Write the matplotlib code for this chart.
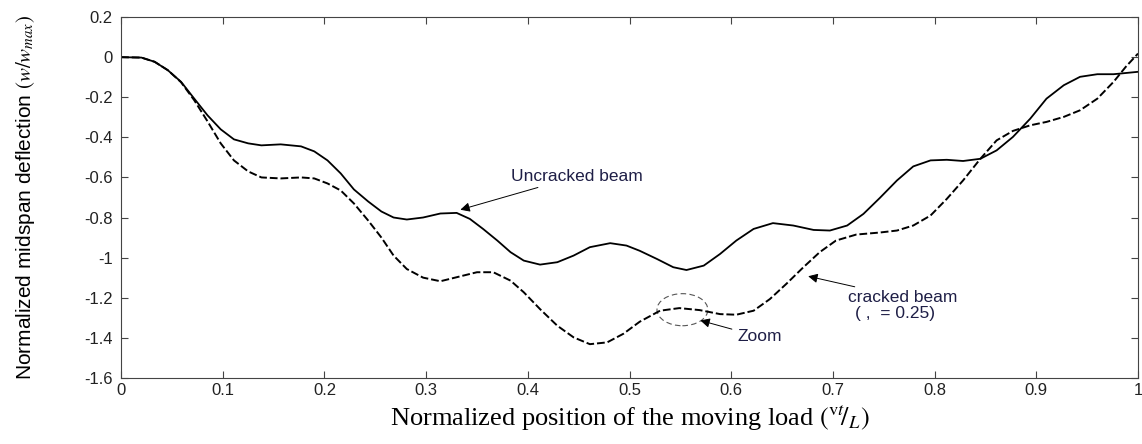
import matplotlib
matplotlib.use("Agg")
import matplotlib.pyplot as plt
from matplotlib.patches import Ellipse

plt.rcParams['axes.unicode_minus'] = False
plt.rcParams['mathtext.fontset'] = 'stix'

# Uncracked beam (solid)
x_unc = [0, 0.020, 0.033, 0.046, 0.059, 0.072, 0.085, 0.098, 0.111, 0.125,
         0.138, 0.157, 0.177, 0.190, 0.203, 0.216, 0.229, 0.243, 0.256, 0.268,
         0.281, 0.297, 0.314, 0.330, 0.343, 0.356, 0.370, 0.383, 0.396, 0.412,
         0.429, 0.445, 0.461, 0.481, 0.497, 0.510, 0.527, 0.543, 0.556, 0.573,
         0.589, 0.605, 0.622, 0.641, 0.661, 0.681, 0.697, 0.714, 0.730, 0.746,
         0.763, 0.779, 0.796, 0.812, 0.828, 0.845, 0.861, 0.877, 0.894, 0.910,
         0.927, 0.943, 0.960, 0.976, 1.0]
y_unc = [0, -0.002, -0.023, -0.065, -0.123, -0.207, -0.29, -0.36, -0.41, -0.43,
         -0.44, -0.435, -0.445, -0.47, -0.515, -0.58, -0.66, -0.72, -0.77, -0.80,
         -0.81, -0.80, -0.78, -0.777, -0.807, -0.857, -0.915, -0.973, -1.015, -1.035,
         -1.023, -0.99, -0.948, -0.928, -0.94, -0.966, -1.007, -1.048, -1.062, -1.04,
         -0.982, -0.915, -0.857, -0.828, -0.84, -0.862, -0.865, -0.84, -0.782, -0.703,
         -0.615, -0.545, -0.515, -0.512, -0.518, -0.507, -0.465, -0.398, -0.307, -0.207,
         -0.14, -0.098, -0.085, -0.085, -0.073]

# Cracked beam (dashed)
x_crk = [0, 0.020, 0.033, 0.046, 0.059, 0.072, 0.085, 0.098, 0.111, 0.125,
         0.138, 0.157, 0.177, 0.190, 0.203, 0.216, 0.229, 0.243, 0.256, 0.268,
         0.281, 0.297, 0.314, 0.330, 0.350, 0.366, 0.383, 0.396, 0.412, 0.429,
         0.445, 0.461, 0.478, 0.494, 0.510, 0.530, 0.549, 0.569, 0.589, 0.605,
         0.622, 0.638, 0.654, 0.671, 0.687, 0.703, 0.723, 0.746, 0.763, 0.779,
         0.796, 0.812, 0.828, 0.845, 0.861, 0.877, 0.894, 0.910, 0.927, 0.943,
         0.960, 0.976, 0.988, 1.0]
y_crk = [0, -0.002, -0.023, -0.065, -0.125, -0.215, -0.32, -0.43, -0.515, -0.57,
         -0.60, -0.605, -0.60, -0.605, -0.63, -0.665, -0.73, -0.815, -0.90, -0.99,
         -1.057, -1.10, -1.118, -1.098, -1.073, -1.073, -1.115, -1.173, -1.257, -1.34,
         -1.398, -1.432, -1.423, -1.38, -1.32, -1.265, -1.252, -1.262, -1.282, -1.285,
         -1.265, -1.207, -1.132, -1.048, -0.973, -0.915, -0.885, -0.875, -0.865, -0.84,
         -0.79, -0.707, -0.615, -0.507, -0.415, -0.368, -0.34, -0.323, -0.298, -0.265,
         -0.207, -0.123, -0.048, 0.018]

x_ticks = [0, 0.1, 0.2, 0.3, 0.4, 0.5, 0.6, 0.7, 0.8, 0.9, 1]
x_ticklabels = ['0', '0.1', '0.2', '0.3', '0.4', '0.5', '0.6', '0.7', '0.8', '0.9', '1']
y_ticks = [0.2, 0, -0.2, -0.4, -0.6, -0.8, -1.0, -1.2, -1.4, -1.6]
y_ticklabels = ['0.2', '0', '-0.2', '-0.4', '-0.6', '-0.8', '-1', '-1.2', '-1.4', '-1.6']

sans = ['Liberation Sans', 'DejaVu Sans']

fig = plt.figure(figsize=(11.42, 4.44), dpi=100)
ax = fig.add_axes([0.106, 0.149, 0.8905, 0.8125])

ax.plot(x_unc, y_unc, color='black', lw=1.3)
ax.plot(x_crk, y_crk, color='black', lw=1.4, dashes=(4, 1.5))

ax.set_xlim(0, 1)
ax.set_ylim(-1.6, 0.2)
ax.set_xticks(x_ticks)
ax.set_xticklabels(x_ticklabels)
ax.set_yticks(y_ticks)
ax.set_yticklabels(y_ticklabels)
ax.tick_params(direction='in', length=5, width=0.8, top=True, right=True,
               labelsize=12, colors='#444444', labelcolor='#222222')
ax.tick_params(axis='x', pad=4)
ax.tick_params(axis='y', pad=6)
for lab in ax.get_xticklabels() + ax.get_yticklabels():
    lab.set_family(sans)
for sp in ax.spines.values():
    sp.set_linewidth(0.8)
    sp.set_color('#444444')

ax.set_ylabel(r'Normalized midspan deflection $(w/w_{max})$', fontsize=15,
              family=['Liberation Sans Narrow', 'Liberation Sans', 'DejaVu Sans'])
ax.yaxis.set_label_coords(-0.083, 0.5)
ax.set_xlabel(r'Normalized position of the moving load $(^{\mathrm{v}t}\!/_{L})$',
              fontsize=19, family=['Liberation Serif', 'DejaVu Serif'], labelpad=4)

txt_color = '#1e1e46'
arrow = dict(arrowstyle='-|>', color='black', lw=0.7, mutation_scale=14)
ax.annotate('Uncracked beam', xy=(0.331, -0.765), xytext=(0.383, -0.595),
            fontsize=12.5, color=txt_color, family=sans,
            va='center', ha='left', arrowprops=arrow)
ax.annotate('cracked beam', xy=(0.673, -1.09), xytext=(0.715, -1.20),
            fontsize=12.5, color=txt_color, family=sans,
            va='center', ha='left', arrowprops=arrow)
ax.text(0.722, -1.28, '( ,  = 0.25)', fontsize=12.5, color=txt_color,
        family=sans, va='center', ha='left')
ax.annotate('Zoom', xy=(0.567, -1.31), xytext=(0.606, -1.395),
            fontsize=12.5, color=txt_color, family=sans,
            va='center', ha='left', arrowprops=arrow)

ax.add_patch(Ellipse((0.552, -1.26), 0.05, 0.16, fill=False, ls=(0, (5, 3)),
                     lw=0.8, edgecolor='#555555'))

fig.savefig('out.png', dpi=100)
